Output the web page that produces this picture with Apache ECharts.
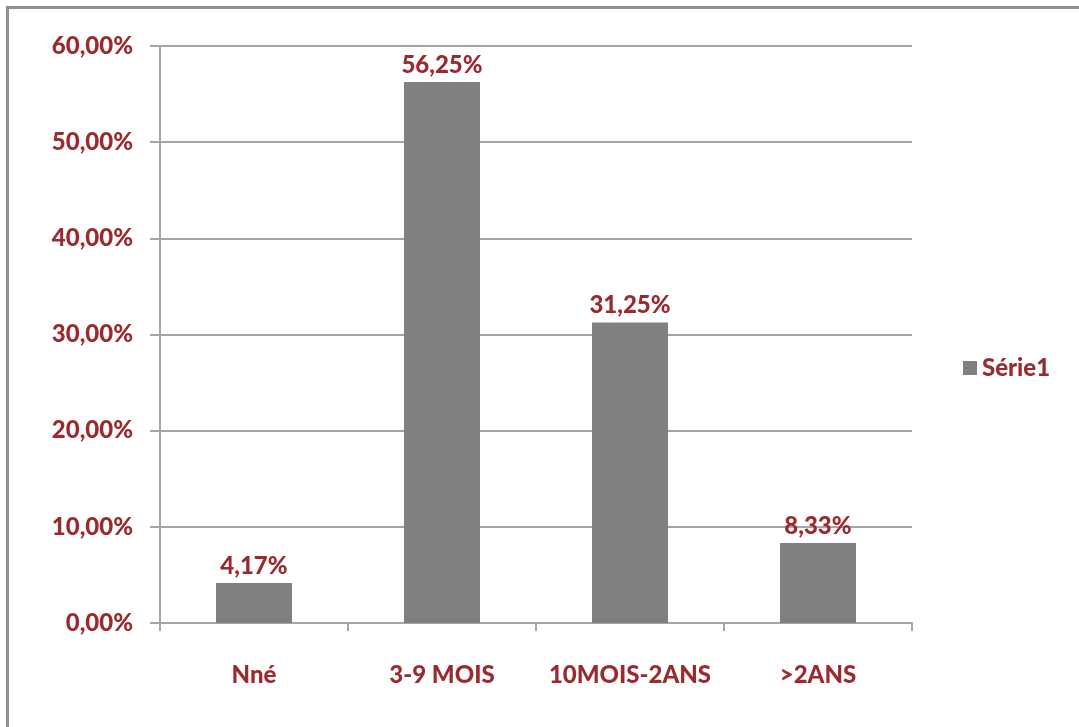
<!DOCTYPE html>
<html>
<head>
<meta charset="utf-8">
<script src="https://cdn.jsdelivr.net/npm/echarts@6/dist/echarts.min.js"></script>
<style>
  html, body { margin: 0; padding: 0; background: #fff; }
  #frame { position: absolute; left: 6px; top: 6px; right: 0; bottom: 0; border-left: 3px solid #8f8f8f; border-top: 3px solid #8f8f8f; }
  #chart { position: absolute; left: 0; top: 0; width: 1079px; height: 727px; }
</style>
</head>
<body>
<div id="frame"></div>
<div id="chart"></div>
<script>
const categories = ["Nné", "3-9 MOIS", "10MOIS-2ANS", ">2ANS"];
const values = [4.17, 56.25, 31.25, 8.33];
const seriesName = "Série1";

const labelColor = "#9b2a2e";
const fontFamily = "Lato, 'Open Sans', sans-serif";
const fmt = v => v.toFixed(2).replace(".", ",") + "%";

const chart = echarts.init(document.getElementById("chart"));

chart.setOption({
  animation: false,
  textStyle: { fontFamily },
  grid: { left: 160, right: 167, top: 46, bottom: 104 },
  legend: {
    data: [seriesName],
    left: 958,
    top: 351,
    itemWidth: 14,
    itemHeight: 14,
    itemGap: 6,
    icon: "rect",
    textStyle: { color: labelColor, fontSize: 24, fontWeight: 900, fontFamily }
  },
  xAxis: {
    type: "category",
    data: categories,
    axisLine: { lineStyle: { color: "#a6a6a6", width: 2 } },
    axisTick: { show: true, length: 8, lineStyle: { color: "#a6a6a6", width: 2 } },
    axisLabel: { color: labelColor, fontSize: 24, fontWeight: 900, margin: 40, interval: 0, fontFamily }
  },
  yAxis: {
    type: "value",
    min: 0,
    max: 60,
    interval: 10,
    axisLine: { show: true, lineStyle: { color: "#a6a6a6", width: 2 } },
    axisTick: { show: true, length: 10, lineStyle: { color: "#a6a6a6", width: 2 } },
    splitLine: { lineStyle: { color: "#a6a6a6", width: 2 } },
    axisLabel: { color: labelColor, fontSize: 24, fontWeight: 900, margin: 27, fontFamily, formatter: fmt }
  },
  series: [{
    name: seriesName,
    type: "bar",
    data: values,
    barWidth: 76,
    itemStyle: { color: "#808080" },
    label: {
      show: true,
      position: "top",
      distance: 5,
      color: labelColor,
      fontSize: 24,
      fontWeight: 900,
      fontFamily,
      formatter: p => fmt(p.value)
    }
  }]
});
</script>
</body>
</html>
